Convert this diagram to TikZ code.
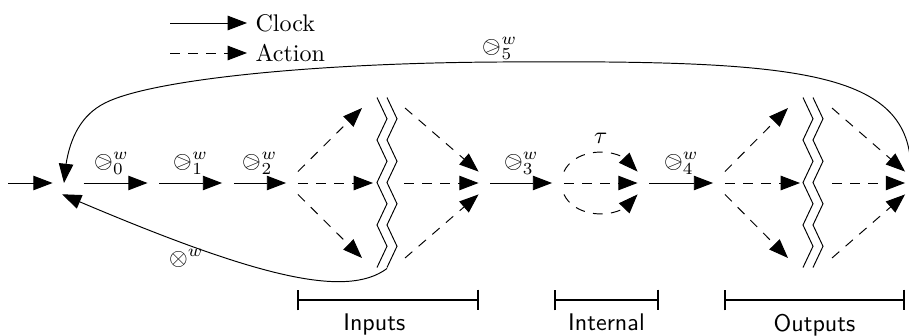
\documentclass[tikz,border=0pt]{standalone}
\usepackage{stmaryrd}
\usetikzlibrary{arrows.meta,bending}

\begin{document}
\begin{tikzpicture}[x=0.146mm,y=-0.146mm,>={Triangle[length=8pt,width=6pt]},
 hub/.style={circle,inner sep=0,minimum size=3.2mm},
 st/.style={inner sep=0,minimum width=1.6mm,minimum height=3.2mm},
 cut/.style={inner sep=0,minimum width=2.92mm,minimum height=24.82mm},
 clock/.style={->}, action/.style={->,dash pattern=on 4pt off 3.5pt},
 span/.style={{Bar[width=3mm]}-{Bar[width=3mm]},thick},
 lbl/.style={font=\sffamily,below=2pt}]
\useasboundingbox (0,0) rectangle (909,336);
% legend
\coordinate (lc) at (170,23);
\node[anchor=west] (clk) at (247,23) {Clock};
\coordinate (la) at (170,53);
\node[anchor=west] (act) at (247,53) {Action};
\draw[clock] (lc) -- (clk);
\draw[action] (la) -- (act);
% states
\coordinate (start) at (8,183);
\node[hub] (s0) at (64,183) {};
\node[st] (s1) at (153.5,183) {};
\node[st] (s2) at (228,183) {};
\node[st] (s3) at (292,183) {};
\coordinate (in1) at (362,108);
\coordinate (in2) at (373,183);
\coordinate (in3) at (362,258);
\node[cut] (cutIn) at (387,183) {};
\coordinate (ia) at (405,108);
\coordinate (ib) at (404,183);
\coordinate (ic) at (405,258);
\node[st] (s4) at (484.5,183) {};
\node[st] (s5) at (558,183) {};
\node[st] (s6) at (643.5,183) {};
\node[st] (s7) at (719,183) {};
\coordinate (out1) at (788,108);
\coordinate (out2) at (800,183);
\coordinate (out3) at (788,258);
\node[cut] (cutOut) at (813,183) {};
\coordinate (oa) at (832,108);
\coordinate (ob) at (832,183);
\coordinate (oc) at (832,258);
\node[st] (s8) at (911,183) {};
% clock steps
\draw[clock] (start) -- (s0);
\draw[clock,shorten <=1.2mm] (s0) -- node[above] (l0) {$\ogreaterthan^w_0$} (s1);
\draw[clock] (s1) -- node[above] (l1) {$\ogreaterthan^w_1$} (s2);
\draw[clock] (s2) -- node[above] (l2) {$\ogreaterthan^w_2$} (s3);
\draw[clock] (s4) -- node[above] (l3) {$\ogreaterthan^w_3$} (s5);
\draw[clock] (s6) -- node[above] (l4) {$\ogreaterthan^w_4$} (s7);
% actions
\foreach \a/\b in {s3.north east/in1,s3/in2,s3.south east/in3,ia/s4.north west,ib/s4,ic/s4.south west,
  s7.north east/out1,s7/out2,s7.south east/out3,oa/s8.north west,ob/s8,oc/s8.south west}
  \draw[action] (\a) -- (\b);
\draw[action] (s5.north east) to[bend left=65] node[above] (tau) {$\tau$} (s6.north west);
\draw[action] (s5) -- (s6);
\draw[action] (s5.south east) to[bend right=65] (s6.south west);
% cuts
\foreach \c in {cutIn,cutOut}
  \foreach \dx in {-10,0}
    \draw ([xshift=\dx*0.146mm]\c.north) \foreach \k in {1,...,4} {-- ++(10,21.25) -- ++(-10,21.25)};
% loops
\draw[clock] (cutIn.south) .. controls (345,300) and (250,275) .. (s0.-100)
  node[pos=0.75,below,inner sep=2pt] (lx) {$\otimes^w$};
\draw[clock] (s8.north) .. controls (911,70) and (800,60) .. (500,62) node[above,inner sep=1pt] (l5) {$\ogreaterthan^w_5$}
  .. controls (310,63) and (150,80) .. (105,103) .. controls (75,118) and (66,150) .. (s0.center);
% spans
\coordinate (inA) at (297,300); \coordinate (inB) at (479,300);
\coordinate (itA) at (554,300); \coordinate (itB) at (659,300);
\coordinate (otA) at (724,300); \coordinate (otB) at (905,300);
\draw[span] (inA) -- node[lbl,xshift=-2mm] (inL) {Inputs} (inB);
\draw[span] (itA) -- node[lbl] (itL) {Internal} (itB);
\draw[span] (otA) -- node[lbl] (otL) {Outputs} (otB);
\end{tikzpicture}
\end{document}
